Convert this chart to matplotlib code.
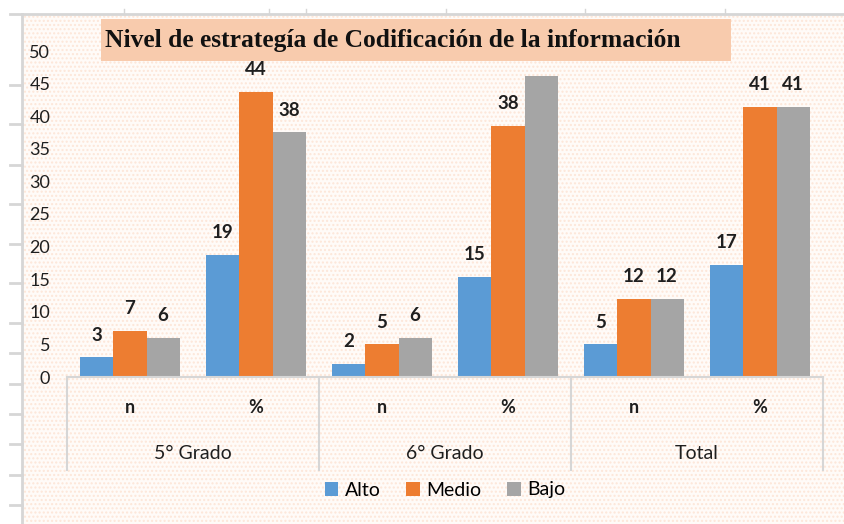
import matplotlib
matplotlib.use("Agg")
import matplotlib.pyplot as plt
from matplotlib.patches import Rectangle
import numpy as np

# data
groups = ["5° Grado", "6° Grado", "Total"]
subgroups = ["n", "%"]
series = ["Alto", "Medio", "Bajo"]
alto = [3, 18.75, 2, 15.38, 5, 17.24]
medio = [7, 43.75, 5, 38.46, 12, 41.38]
bajo = [6, 37.5, 6, 46.15, 12, 41.38]
alto_lbl = ["3", "19", "2", "15", "5", "17"]
medio_lbl = ["7", "44", "5", "38", "12", "41"]
bajo_lbl = ["6", "38", "6", "", "12", "41"]
yticks = [0, 5, 10, 15, 20, 25, 30, 35, 40, 45, 50]
title = "Nivel de estrategía de Codificación de la información"

colors = ["#5B9BD5", "#ED7D31", "#A5A5A5"]
W, H = 844, 524
txt = "#1f1f1f"
plt.rcParams["font.family"] = ["Lato", "DejaVu Sans"]

fig = plt.figure(figsize=(W / 100, H / 100), dpi=100)
fig.patch.set_facecolor("white")

# overlay in pixel coordinates for the sheet background, grid marks and title box
bg = fig.add_axes([0, 0, 1, 1])
bg.set_xlim(0, W)
bg.set_ylim(H, 0)
bg.axis("off")
plt.rcParams["hatch.linewidth"] = 1.0
bg.add_patch(Rectangle((22, 14), W - 22, H - 14, facecolor="#fffbf8",
                       edgecolor="#fde6d8", hatch="....", lw=0))
grey = "#d6d6d6"
bg.plot([10, W], [14, 14], color=grey, lw=2)
bg.plot([22, 22], [14, H], color=grey, lw=2)
for x in [124, 269, 306, 446, 585, 725]:
    bg.plot([x, x], [9, 14], color=grey, lw=1)
for y in [85, 124, 165, 204, 244, 283, 323, 353, 384, 414, 444, 475, 505]:
    bg.plot([10, 22], [y, y], color=grey, lw=2)

# main chart
ax = fig.add_axes([67 / W, 1 - 377 / H, (823 - 67) / W, (377 - 51) / H])
ax.set_facecolor("none")
x = np.arange(len(alto))
bw = 0.262
vals = [alto, medio, bajo]
lbls = [alto_lbl, medio_lbl, bajo_lbl]
handles = []
for i in range(3):
    b = ax.bar(x + (i - 1) * bw, vals[i], bw, color=colors[i], label=series[i], zorder=2)
    handles.append(b)
    for xi, v, t in zip(x + (i - 1) * bw, vals[i], lbls[i]):
        ax.annotate(t, (xi, v), xytext=(0, 10), textcoords="offset points",
                    ha="center", va="bottom", fontsize=13.5, fontweight="bold",
                    color=txt, annotation_clip=False)

ax.set_xlim(-0.5, len(alto) - 0.5)
ax.set_ylim(0, 50)
ax.set_yticks(yticks)
ax.tick_params(axis="y", length=0, pad=12, labelsize=13, labelcolor=txt)
ax.set_xticks([])
for s in ["top", "right", "left"]:
    ax.spines[s].set_visible(False)
ax.spines["bottom"].set_color(grey)
ax.spines["bottom"].set_linewidth(1.5)

# two-level category axis
tr = ax.get_xaxis_transform()
for k, xi in enumerate(x):
    ax.text(xi, -0.095, subgroups[k % 2], transform=tr, ha="center", va="center",
            fontsize=13, fontweight="bold", color=txt)
for g, name in enumerate(groups):
    ax.text(2 * g + 0.5, -0.235, name, transform=tr, ha="center", va="center",
            fontsize=14, color=txt)
for xs in [-0.5, 1.5, 3.5, 5.5]:
    ax.plot([xs, xs], [0, -0.285], transform=tr, color=grey, lw=1.5, clip_on=False)

# title box
bg.add_patch(Rectangle((101, 19), 731 - 101, 42, facecolor="#F8CBAD", lw=0, zorder=5))
bg.text(105, 40, title, ha="left", va="center", fontsize=18.4, fontweight="bold",
        family="Liberation Serif", color="#111111", zorder=6)

fig.legend(handles=handles, loc="center", bbox_to_anchor=(445 / W, 1 - 490 / H),
           ncol=3, frameon=False, fontsize=14, handlelength=0.7, handleheight=0.7,
           handletextpad=0.35, columnspacing=1.3)

fig.savefig("out.png", dpi=100)
